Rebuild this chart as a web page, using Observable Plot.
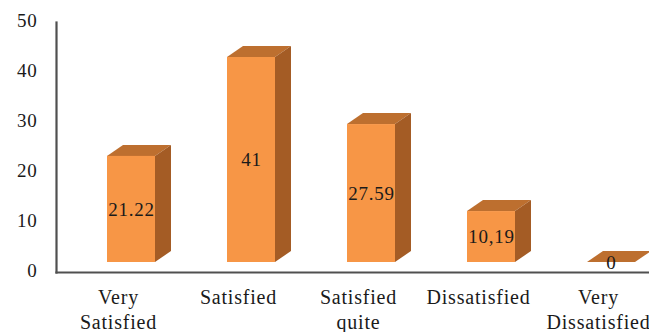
<!DOCTYPE html>
<html><head><meta charset="utf-8">
<script src="https://cdn.jsdelivr.net/npm/d3@7"></script>
<script src="https://cdn.jsdelivr.net/npm/@observablehq/plot@0.6"></script>
<style>html,body{margin:0;padding:0;background:#fff} svg{display:block} svg text{letter-spacing:0.8px}</style>
</head><body><div id="chart"></div>
<script>
const categories = ["Very Satisfied", "Satisfied", "Satisfied quite", "Dissatisfied", "Very Dissatisfied"];
const categoryLabels = ["Very\nSatisfied", "Satisfied", "Satisfied\nquite", "Dissatisfied", "Very\nDissatisfied"];
const values = [21.22, 41, 27.59, 10.19, 0];
const valueLabels = ["21.22", "41", "27.59", "10,19", "0"];
const yTicks = [0, 10, 20, 30, 40, 50];

const data = categories.map((c, i) => ({category: c, label: categoryLabels[i], value: values[i], text: valueLabels[i]}));

const FONT = "'Liberation Serif', 'Times New Roman', serif";
const FRONT = "#f79646", TOP = "#bd6f2f", SIDE = "#a45c25";
const DX = 16, DY = -11;

function depthFaces(index, scales) {
  const x = scales.x, y = scales.y;
  const bw = typeof x.bandwidth === "function" ? x.bandwidth() : x.bandwidth;
  const g = d3.create("svg:g");
  const y0 = y(0);
  data.forEach(d => {
    const x0 = x(d.category), x1 = x0 + bw, yt = y(d.value);
    g.append("path")
      .attr("d", `M${x0},${yt}L${x0 + DX},${yt + DY}L${x1 + DX},${yt + DY}L${x1},${yt}Z`)
      .attr("fill", TOP);
    if (d.value > 0) g.append("path")
      .attr("d", `M${x1},${yt}L${x1 + DX},${yt + DY}L${x1 + DX},${y0 + DY}L${x1},${y0}Z`)
      .attr("fill", SIDE);
  });
  return g.node();
}

const chart = Plot.plot({
  width: 649,
  height: 332,
  marginLeft: 56,
  marginRight: 0,
  marginTop: 22,
  marginBottom: 60,
  style: {background: "#fff", color: "#1a1a1a", fontFamily: FONT},
  x: {domain: categories, range: [105, 637], paddingInner: 0.6, paddingOuter: 0, axis: null},
  y: {domain: [0, 50], range: [262, 12], axis: null},
  marks: [
    depthFaces,
    Plot.barY(data, {x: "category", y: "value", fill: FRONT}),
    Plot.text(data, {x: "category", y: d => d.value / 2, text: "text", fontFamily: FONT, fontSize: 19, fill: "#1a1a1a"}),
    Plot.frame({anchor: "left", stroke: "#505050", strokeWidth: 2.2}),
    Plot.frame({anchor: "bottom", stroke: "#505050", strokeWidth: 2.2}),
    Plot.text(yTicks, {y: d => d, text: d => String(d), frameAnchor: "left", textAnchor: "end", dx: -19, dy: 8, fontFamily: FONT, fontSize: 19, fill: "#1a1a1a"}),
    Plot.text(data, {x: "category", text: "label", frameAnchor: "bottom", lineAnchor: "top", dy: 14, dx: -13, fontFamily: FONT, fontSize: 20, lineHeight: 1.25, fill: "#1a1a1a"})
  ]
});
document.getElementById("chart").appendChild(chart);
</script>
</body></html>
